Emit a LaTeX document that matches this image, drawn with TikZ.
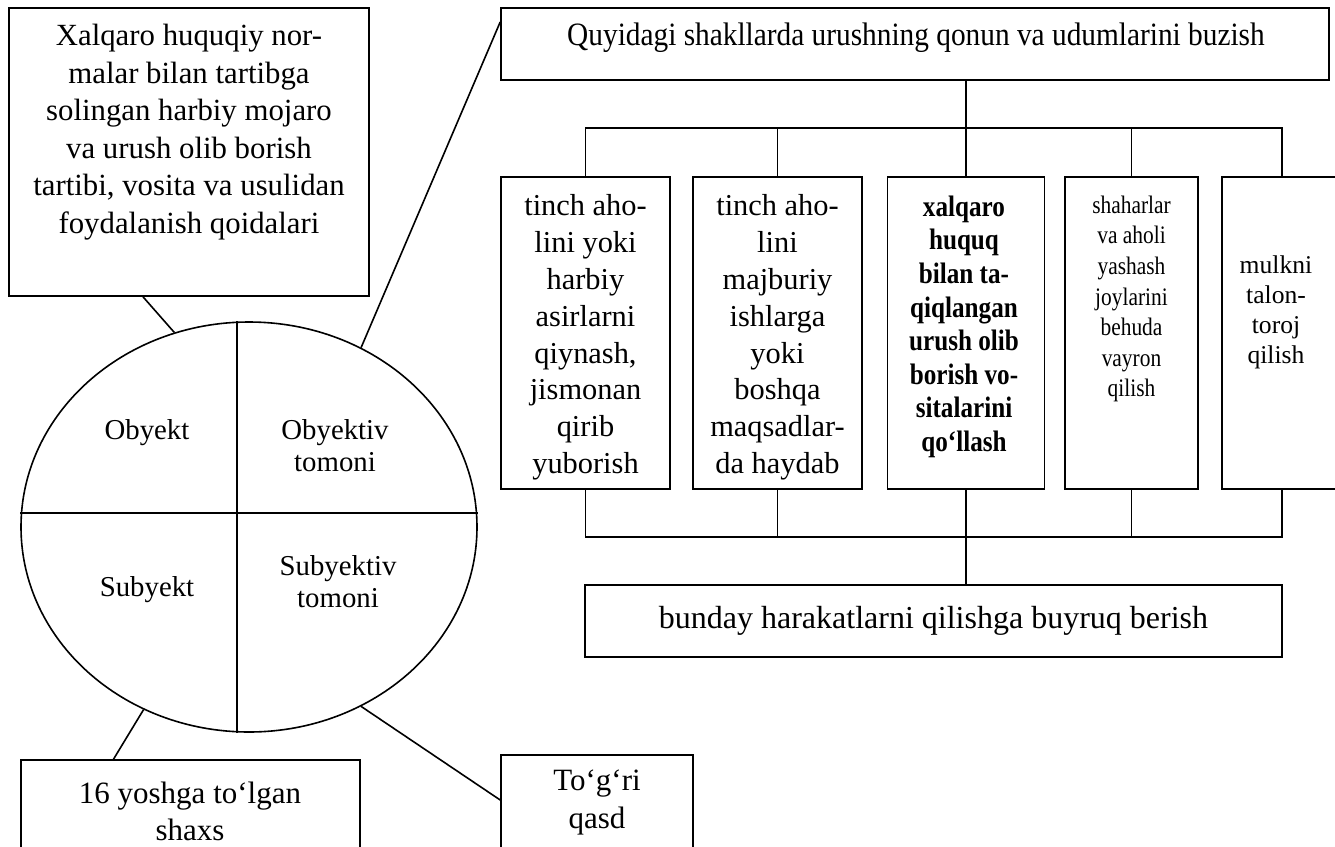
\documentclass[tikz,border=0pt]{standalone}
\usepackage{fontspec}
\setmainfont{Liberation Serif}
\newfontfamily\narrowfont[FakeStretch=0.9]{Liberation Serif}
\newfontfamily\condfont[FakeStretch=0.85]{Liberation Serif}
\usetikzlibrary{shapes.geometric}

\begin{document}
\begin{tikzpicture}[x=0.5pt,y=-0.5pt,line width=0.8pt,
    box/.style={draw,rectangle,inner sep=0pt},
    txt/.style={align=center,inner sep=0pt,font=\fontsize{15.2pt}{18.4pt}\selectfont}]

      \useasboundingbox (0,0) rectangle (1335,847);

      % left part: the element and its four sides
      \node [box,minimum width=180pt,minimum height=144pt] (norm) at (189,152) {};
      \node [txt,font=\fontsize{15.4pt}{18.75pt}\selectfont] (normtxt) at (189,132)
      {Xalqaro huquqiy nor-\\malar bilan tartibga\\solingan harbiy mojaro\\va urush olib borish\\tartibi, vosita va usulidan\\foydalanish qoidalari};

      \node [draw,ellipse,inner sep=0pt,minimum width=228pt,minimum height=205pt] (elem) at (249,527) {};
      \draw ([xshift=-6pt]elem.north) -- ([xshift=-6pt]elem.south);
      \draw ([yshift=7pt]elem.west) -- ([yshift=7pt]elem.east);

      \node [txt,font=\fontsize{14.4pt}{16pt}\selectfont] (obj) at (147,433) {Obyekt};
      \node [txt,font=\fontsize{14.4pt}{16pt}\selectfont] (objside) at (335,446) {Obyektiv\\tomoni};
      \node [txt,font=\fontsize{14.4pt}{16pt}\selectfont] (subj) at (147,590) {Subyekt};
      \node [txt,font=\fontsize{14.4pt}{16pt}\selectfont] (subjside) at (338,582) {Subyektiv\\tomoni};

      \node [box,minimum width=169.5pt,minimum height=70pt] (age) at (190.5,830) {};
      \node [txt,font=\fontsize{15.5pt}{18.5pt}\selectfont] (agetxt) at (190,811) {16 yoshga to‘lgan\\shaxs};

      \node [box,minimum width=96pt,minimum height=70pt] (intent) at (597,825) {};
      \node [txt,font=\fontsize{15.5pt}{19pt}\selectfont] (intenttxt) at (597,802) {To‘g‘ri\\qasd};

      % right part: objective side
      \node [box,minimum width=414pt,minimum height=36pt] (kind) at (915,44) {};
      \node [txt,font=\narrowfont\fontsize{16.3pt}{19pt}\selectfont] (kindtxt) at (916,38)
      {Quyidagi shakllarda urushning qonun va udumlarini buzish};

      \draw ([xshift=-23pt]norm.south) -- (elem.111);
      \draw (elem.58) -- ([yshift=11pt]kind.west);
      \draw (elem.240) -- ([xshift=-38.5pt]age.north);
      \draw (elem.302) -- ([yshift=12.5pt]intent.west);

      \node [box,minimum width=84.5pt,minimum height=156pt] (b1) at (585.5,333) {};
      \node [box,minimum width=84.5pt,minimum height=156pt] (b2) at (777.5,333) {};
      \node [box,minimum width=78.5pt,minimum height=156pt] (b3) at (966,333) {};
      \node [box,minimum width=66.5pt,minimum height=156pt] (b4) at (1131.5,333) {};
      \node [box,minimum width=60pt,minimum height=156pt] (b5) at (1282,333) {};

      \node [txt,anchor=north] (t1) at (585.5,194)
      {tinch aho-\\lini yoki\\harbiy\\asirlarni\\qiynash,\\jismonan\\qirib\\yuborish};
      \node [txt,anchor=north] (t2) at (777.5,194)
      {tinch aho-\\lini\\majburiy\\ishlarga\\yoki\\boshqa\\maqsadlar-\\da haydab};
      \node [txt,anchor=north,font=\condfont\bfseries\fontsize{14.8pt}{16.8pt}\selectfont] (t3) at (964,195)
      {xalqaro\\huquq\\bilan ta-\\qiqlangan\\urush olib\\borish vo-\\sitalarini\\qo‘llash};
      \node [txt,anchor=north,font=\condfont\fontsize{12.6pt}{15.3pt}\selectfont] (t4) at (1131.5,195)
      {shaharlar\\va aholi\\yashash\\joylarini\\behuda\\vayron\\qilish};
      \node [txt,anchor=north,font=\fontsize{12.8pt}{15pt}\selectfont] (t5) at (1276,255)
      {mulkni\\talon-\\toroj\\qilish};

      \node [box,minimum width=348.5pt,minimum height=36pt,
             font=\fontsize{16pt}{18pt}\selectfont] (order) at (933.5,621)
      {bunday harakatlarni qilishga buyruq berish};

      \coordinate (topbar) at (0,128);
      \coordinate (botbar) at (0,537);

      \draw (kind.south -| b3.north) -- (b3.north);
      \draw (b1.north) -- (topbar -| b1.north) -- (topbar -| b5.north) -- (b5.north);
      \foreach \b in {b2,b4}
        \draw (\b.north) -- (topbar -| \b.north);

      \draw (b1.south) -- (botbar -| b1.south) -- (botbar -| b5.south) -- (b5.south);
      \foreach \b in {b2,b4}
        \draw (\b.south) -- (botbar -| \b.south);
      \draw (b3.south) -- (order.north -| b3.south);

\end{tikzpicture}
\end{document}
